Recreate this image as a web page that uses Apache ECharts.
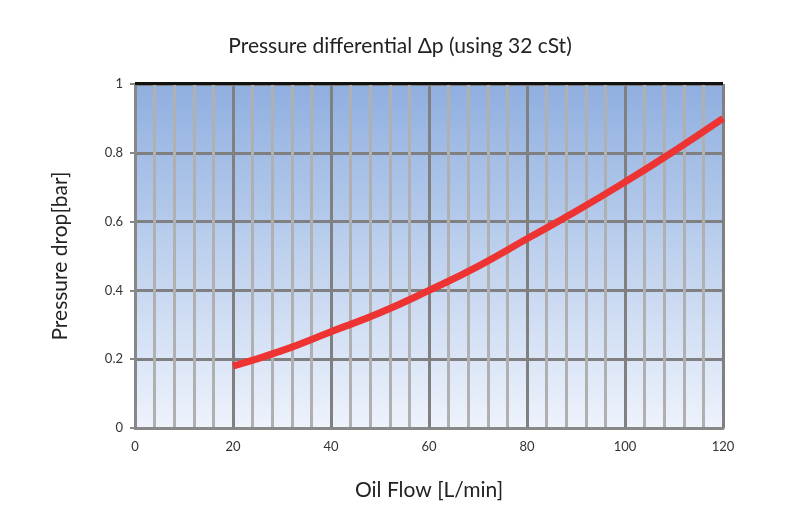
<!DOCTYPE html><html><head><meta charset="utf-8"><script src="https://cdn.jsdelivr.net/npm/echarts@6/dist/echarts.min.js"></script></head><body style="margin:0"><div id="c" style="width:800px;height:530px"></div><script>
const flow=[20,30,40,50,60,70,80,90,100,110,120];
const drop=[0.18,0.225,0.28,0.335,0.40,0.47,0.55,0.63,0.715,0.805,0.90];
const ch=echarts.init(document.getElementById('c'));
const F='Lato, sans-serif';
ch.setOption({
title:{text:'Pressure differential \u0394p (using 32 cSt)',left:'center',top:31,textStyle:{fontFamily:F,fontSize:21,fontWeight:'normal',color:'#222'}},
grid:{left:135,right:77,top:84,bottom:102,show:true,borderWidth:0,backgroundColor:new echarts.graphic.LinearGradient(0,0,0,1,[{offset:0,color:'#8fafe0'},{offset:1,color:'#eef3fc'}])},
xAxis:{type:'value',min:0,max:120,interval:20,name:'Oil Flow [L/min]',nameLocation:'middle',nameGap:52,nameTextStyle:{fontFamily:F,fontSize:21,color:'#222'},
axisLine:{show:true,lineStyle:{color:'#888',width:3}},axisTick:{show:false},axisLabel:{fontFamily:F,fontSize:13,color:'#333',margin:12},
splitLine:{lineStyle:{color:'#808080',width:3}},minorTick:{show:false,splitNumber:5},minorSplitLine:{show:true,lineStyle:{color:'#b0b0b0',width:3}}},
yAxis:{type:'value',min:0,max:1,interval:0.2,name:'Pressure drop[bar]',nameLocation:'middle',nameGap:64,nameTextStyle:{fontFamily:F,fontSize:21,color:'#222'},
axisLine:{show:true,lineStyle:{color:'#888',width:3}},axisTick:{show:true,length:5,lineStyle:{color:'#888',width:2}},axisLabel:{fontFamily:F,fontSize:13,color:'#333',margin:12},
splitLine:{lineStyle:{color:'#808080',width:3}}},
graphic:[{type:'rect',shape:{x:135,y:82,width:588,height:3},style:{fill:'#111'},z:10}],
series:[{type:'line',data:flow.map((x,i)=>[x,drop[i]]),smooth:true,symbol:'none',lineStyle:{color:'#ee3333',width:7},z:5}]
});
</script></body></html>
